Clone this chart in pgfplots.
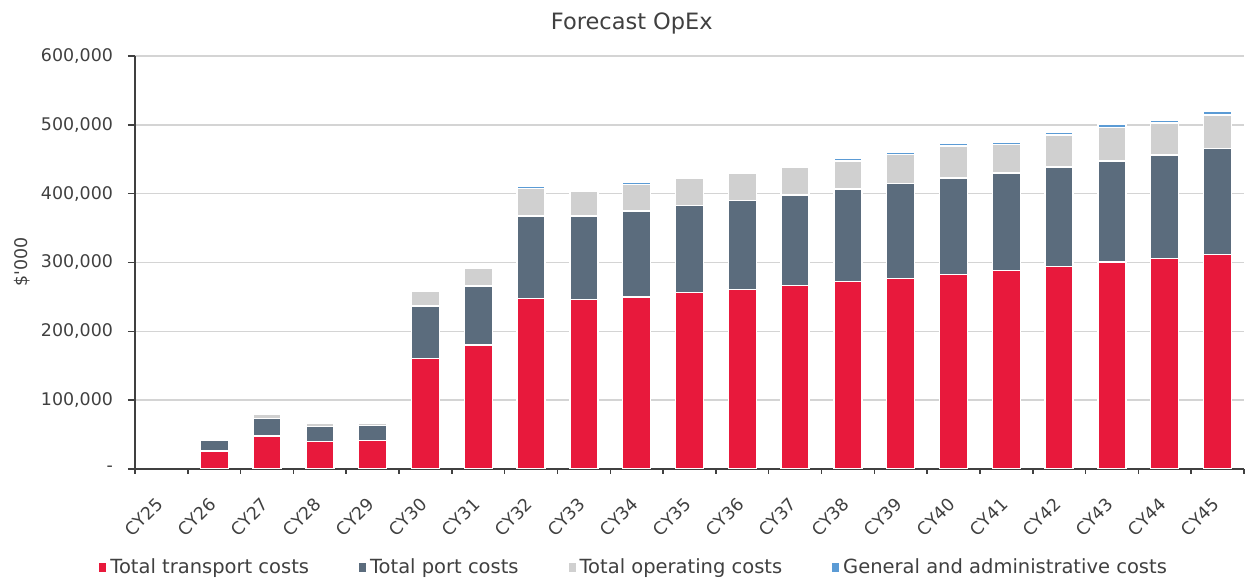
\documentclass[border=0pt]{standalone}
\usepackage{pgfplots}
\pgfplotsset{compat=1.18}
\usepackage{fontspec}
\setmainfont{DejaVu Sans}
\definecolor{cRed}{HTML}{E8193C}
\definecolor{cPort}{HTML}{5B6C7D}
\definecolor{cOp}{HTML}{D0D0D0}
\definecolor{cGA}{HTML}{5B9BD5}
\definecolor{cText}{HTML}{404040}
\definecolor{cGrid}{HTML}{D4D4D4}
\pgfplotstableread{
x red port op ga
0 0 0 0 0
1 26000 16000 1500 0
2 48000 25000 6000 0
3 40000 22000 5000 0
4 41000 22000 4000 0
5 160500 76500 21500 0
6 180000 86000 26000 3000
7 247500 120000 40000 3500
8 246500 121000 35500 0
9 250000 125000 38000 3000
10 256500 126000 40000 0
11 261000 129500 38500 0
12 266500 131500 40500 3000
13 272000 134500 41000 3500
14 277000 137500 42000 3500
15 282500 140500 46000 3500
16 288500 141500 41500 3500
17 294500 144500 46000 4000
18 300500 147000 49000 4000
19 306000 150000 46500 4500
20 312000 154000 48500 4500
}\datatable
\begin{document}
\begin{tikzpicture}
\useasboundingbox (0,0) rectangle (624pt,291.5pt);
\begin{axis}[
  at={(67.5pt,57pt)}, anchor=south west,
  scale only axis, width=554.5pt, height=206.5pt,
  ybar stacked, bar width=14pt,
  xmin=-0.5, xmax=20.5, ymin=0, ymax=600000,
  scaled y ticks=false,
  xtick={0,...,20},
  xticklabels={CY25,CY26,CY27,CY28,CY29,CY30,CY31,CY32,CY33,CY34,CY35,CY36,CY37,CY38,CY39,CY40,CY41,CY42,CY43,CY44,CY45},
  minor xtick={-0.5,0.5,...,20.5},
  ytick={0,100000,200000,300000,400000,500000,600000},
  yticklabels={{-},{100,000},{200,000},{300,000},{400,000},{500,000},{600,000}},
  axis lines*=left,
  axis line style={draw=cText, line width=0.75pt},
  tick align=outside,
  major tick length=3.5pt, minor tick length=2.5pt,
  every major x tick/.style={draw=none},
  tick style={draw=cText, line width=0.75pt},
  ymajorgrids, grid style={draw=cGrid, line width=0.75pt},
  tick label style={text=cText, font=\fontsize{8.7}{10}\selectfont},
  yticklabel style={xshift=-4pt},
  xticklabel style={rotate=45, anchor=east, yshift=-8.25pt, xshift=-6pt},
  ylabel={\$\textquotesingle000},
  every axis y label/.style={at={(axis description cs:-0.1019,0.502)}, rotate=90, anchor=center, text=cText, font=\fontsize{8.7}{10}\selectfont},
  title={Forecast OpEx},
  title style={at={(axis description cs:0.448,1)}, anchor=center, yshift=10.5pt, text=cText, font=\fontsize{11.25}{13}\selectfont},
  legend columns=4,
  legend image code/.code={\fill[#1,draw=none] (-0.5pt,-2.25pt) rectangle (3pt,2.25pt);},
  legend style={draw=none, at={(axis description cs:0.451,-0.2397)}, anchor=center,
    font=\fontsize{9.75}{11}\selectfont, text=cText,
    /tikz/every even column/.append style={column sep=23pt}},
  legend cell align=left,
]
\addplot[fill=cRed, draw=white, line width=0.7pt] table[x=x, y=red] {\datatable};
\addplot[fill=cPort, draw=white, line width=0.7pt] table[x=x, y=port] {\datatable};
\addplot[fill=cOp, draw=white, line width=0.7pt] table[x=x, y=op] {\datatable};
\addplot[fill=cGA, draw=white, line width=0.7pt] table[x=x, y=ga] {\datatable};
\legend{Total transport costs, Total port costs, Total operating costs, General and administrative costs}
\end{axis}
\end{tikzpicture}
\end{document}
